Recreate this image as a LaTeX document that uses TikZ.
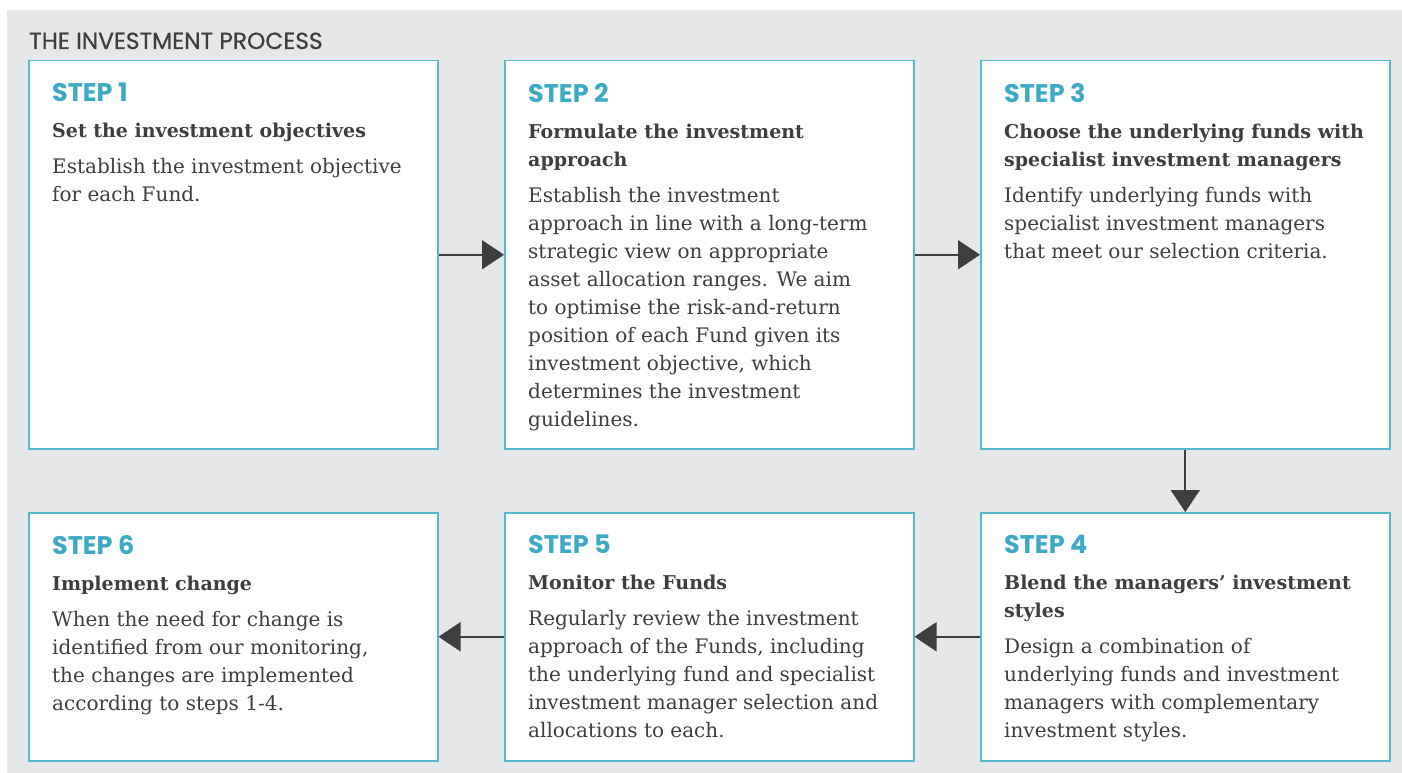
\documentclass[tikz,border=0pt]{standalone}
\usepackage{fontspec}
\setmainfont{DejaVu Serif}
\newfontfamily\headfont{Poppins}
\newfontfamily\titlefont[FakeBold=0.6]{Poppins}
\usetikzlibrary{arrows.meta}
\definecolor{stepteal}{RGB}{60,170,196}
\definecolor{boxteal}{RGB}{84,184,206}
\definecolor{inkgray}{RGB}{62,61,63}
\definecolor{backgray}{RGB}{230,231,233}
\newcommand{\stepno}[1]{{\headfont\bfseries\fontsize{25.5}{28}\selectfont\color{stepteal}#1}}
\newcommand{\stephead}[1]{{\bfseries\fontsize{19}{28}\selectfont#1}}
\begin{document}
\begin{tikzpicture}[x=1pt,y=-1pt,
  stepbox/.style={draw=boxteal,line width=1.5pt,fill=white,
    minimum width=409pt,inner sep=0pt,anchor=north west},
  steptext/.style={anchor=north west,inner sep=0pt,align=left,text=inkgray,
    font=\fontsize{20}{28}\selectfont},
  flow/.style={draw=inkgray,line width=2pt,
    -{Triangle[length=22pt,width=29pt]}}]
  \useasboundingbox (0,0) rectangle (1402,773);
  \fill[backgray] (7,10) rectangle (1402,773);
  \node[anchor=base west,inner sep=0pt,text=inkgray,
    font=\titlefont\fontsize{23.3}{24}\selectfont] (title) at (29,49)
    {THE INVESTMENT PROCESS};
  % top row
  \node[stepbox,minimum height=388pt] (s1) at (28,60) {};
  \node[stepbox,minimum height=388pt] (s2) at (504,60) {};
  \node[stepbox,minimum height=388pt] (s3) at (980,60) {};
  % bottom row
  \node[stepbox,minimum height=248pt] (s6) at (28,512) {};
  \node[stepbox,minimum height=248pt] (s5) at (504,512) {};
  \node[stepbox,minimum height=248pt] (s4) at (980,512) {};
  \node[steptext] (t1) at (52,83) {\stepno{STEP 1}\\[8pt]
    \stephead{Set the investment objectives}\\[8pt]
    Establish the investment objective\\
    for each Fund.};
  \node[steptext] (t2) at (528,83) {\stepno{STEP 2}\\[8pt]
    \stephead{Formulate the investment}\\
    \stephead{approach}\\[8pt]
    Establish the investment\\
    approach in line with a long-term\\
    strategic view on appropriate\\
    asset allocation ranges. We aim\\
    to optimise the risk-and-return\\
    position of each Fund given its\\
    investment objective, which\\
    determines the investment\\
    guidelines.};
  \node[steptext] (t3) at (1004,83) {\stepno{STEP 3}\\[8pt]
    \stephead{Choose the underlying funds with}\\
    \stephead{specialist investment managers}\\[8pt]
    Identify underlying funds with\\
    specialist investment managers\\
    that meet our selection criteria.};
  \node[steptext] (t4) at (1004,535) {\stepno{STEP 4}\\[8pt]
    \stephead{Blend the managers’ investment}\\
    \stephead{styles}\\[8pt]
    Design a combination of\\
    underlying funds and investment\\
    managers with complementary\\
    investment styles.};
  \node[steptext] (t5) at (528,535) {\stepno{STEP 5}\\[8pt]
    \stephead{Monitor the Funds}\\[8pt]
    Regularly review the investment\\
    approach of the Funds, including\\
    the underlying fund and specialist\\
    investment manager selection and\\
    allocations to each.};
  \node[steptext] (t6) at (52,535) {\stepno{STEP 6}\\[8pt]
    \stephead{Implement change}\\[8pt]
    When the need for change is\\
    identified from our monitoring,\\
    the changes are implemented\\
    according to steps 1-4.};
  \draw[flow] (s1) -- (s2);
  \draw[flow] (s2) -- (s3);
  \draw[flow] (s3) -- (s4);
  \draw[flow] (s4) -- (s5);
  \draw[flow] (s5) -- (s6);
\end{tikzpicture}
\end{document}
